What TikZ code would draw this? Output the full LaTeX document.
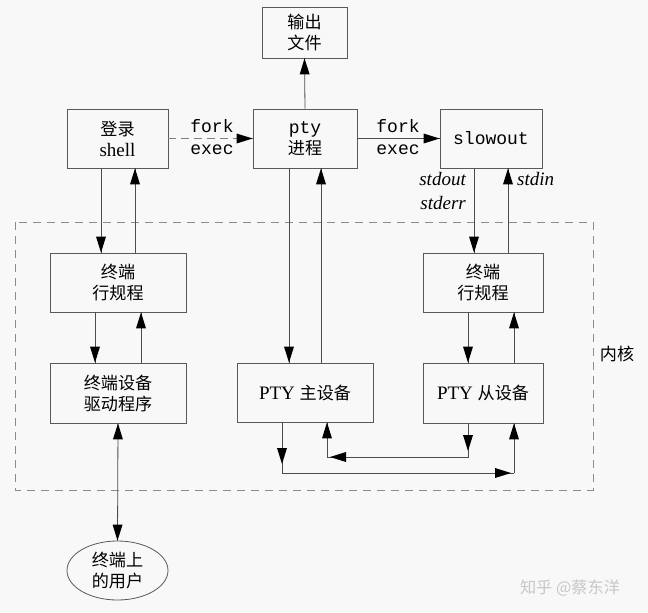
\documentclass[tikz,border=0pt]{standalone}
\usepackage{fontspec}
\setmainfont{Liberation Serif}
\setmonofont{Liberation Mono}
\newfontfamily\cjk[Scale=0.9]{Noto Sans CJK SC}
\usetikzlibrary{decorations.markings,shapes.geometric}
\definecolor{bg}{RGB}{248,248,248}
\begin{document}
\begin{tikzpicture}[x=1pt,y=-1pt,
  box/.style={draw=black!65, line width=0.8pt, fill=bg, inner sep=0pt, align=center,
              font=\fontsize{19}{21}\selectfont},
  cjbox/.style={box, font=\fontsize{19}{21}\selectfont\cjk},
  conn/.style={draw=black!70, line width=0.8pt},
  headend/.style={postaction={decorate, decoration={markings,
      mark=at position 1 with {\fill[black] (0pt,0pt) -- (-16pt,5pt) -- (-16pt,-5pt) -- cycle;}}}},
  headstart/.style={postaction={decorate, decoration={markings,
      mark=at position 0 with {\fill[black] (0pt,0pt) -- (16pt,5pt) -- (16pt,-5pt) -- cycle;}}}},
  arr/.style={conn, headend},
  darr/.style={conn, headend, headstart},
  ttlbl/.style={font=\fontsize{18}{21}\selectfont\ttfamily, inner sep=0pt},
  itlbl/.style={font=\fontsize{19}{21}\selectfont\itshape, inner sep=0pt},
  kernel/.style={draw=black!45, line width=1pt, dash pattern=on 8pt off 6pt}
]
\path[fill=bg] (0,0) rectangle (648,613);

% kernel region
\draw[kernel] (15,222) rectangle (593,490);
\node[font=\fontsize{19}{21}\selectfont\cjk, inner sep=0pt] (kern) at (617,354) {内核};

% processes
\node[cjbox, minimum width=85pt, minimum height=51pt] (out) at (304.5,32.5) {输出\\文件};
\node[box, minimum width=101pt, minimum height=59pt] (login) at (117.5,138.5) {{\cjk 登录}\\shell};
\node[box, minimum width=104pt, minimum height=59pt] (pty) at (305,138.5) {{\fontsize{18}{21}\selectfont\ttfamily pty}\\{\cjk 进程}};
\node[box, minimum width=102pt, minimum height=59pt, font=\fontsize{18}{21}\selectfont\ttfamily] (slow) at (491,138.5) {slowout};

% kernel modules
\node[cjbox, minimum width=136pt, minimum height=59pt] (ldL) at (118,282.5) {终端\\行规程};
\node[cjbox, minimum width=120pt, minimum height=59pt] (ldR) at (483,282.5) {终端\\行规程};
\node[cjbox, minimum width=136pt, minimum height=60pt] (drv) at (118,393) {终端设备\\驱动程序};
\node[box, minimum width=136pt, minimum height=59pt] (ptm) at (305,392.5) {PTY {\cjk 主设备}};
\node[box, minimum width=120pt, minimum height=60pt] (pts) at (483,393) {PTY {\cjk 从设备}};

% user
\node[ellipse, draw=black!65, line width=0.8pt, fill=bg, inner sep=0pt,
      minimum width=101pt, minimum height=59pt, align=center,
      font=\fontsize{19}{21}\selectfont\cjk] (user) at (117.5,570.5) {终端上\\的用户};

% column helpers
\coordinate (xa) at (101,0);  \coordinate (xb) at (135,0);
\coordinate (xc) at (95,0);   \coordinate (xd) at (141,0);
\coordinate (xe) at (289,0);  \coordinate (xf) at (321,0);
\coordinate (xg) at (474,0);  \coordinate (xh) at (508,0);
\coordinate (xi) at (468,0);  \coordinate (xj) at (514,0);

% fork / exec
\draw[arr, draw=black!50, dash pattern=on 8pt off 5pt] (login.east) -- (pty.west);
\node[ttlbl] (fk1) at (212,126) {fork};
\node[ttlbl] (ex1) at (212,150) {exec};
\draw[arr] (pty.east) -- (slow.west);
\node[ttlbl] (fk2) at (398,126) {fork};
\node[ttlbl] (ex2) at (398,150) {exec};

\draw[arr] (pty.north) -- (out.south);

% login shell <-> line discipline
\draw[arr] (login.south -| xa) -- (ldL.north -| xa);
\draw[arr] (ldL.north -| xb) -- (login.south -| xb);
\draw[arr] (ldL.south -| xc) -- (drv.north -| xc);
\draw[arr] (drv.north -| xd) -- (ldL.south -| xd);
\draw[darr] (drv.south) -- (user.north);

% pty process <-> master
\draw[arr] (pty.south -| xe) -- (ptm.north -| xe);
\draw[arr] (ptm.north -| xf) -- (pty.south -| xf);

% slowout <-> line discipline <-> slave
\draw[arr] (slow.south -| xg) -- (ldR.north -| xg);
\draw[arr] (ldR.north -| xh) -- (slow.south -| xh);
\node[itlbl, anchor=east] (sout) at (466,179) {stdout};
\node[itlbl, anchor=east] (serr) at (466,203) {stderr};
\node[itlbl, anchor=west] (sin) at (517,179) {stdin};
\draw[arr] (ldR.south -| xi) -- (pts.north -| xi);
\draw[arr] (pts.north -| xj) -- (ldR.south -| xj);

% master <-> slave loop
\coordinate (m1) at (282,473); \coordinate (s1) at (514,473);
\coordinate (s2) at (468,457); \coordinate (m2) at (327,457);
\draw[conn] (ptm.south -| m1) -- (m1) -- (s1);
\draw[arr] (ptm.south -| m1) -- ([yshift=9pt]m1);
\draw[arr] (m1) -- ([xshift=-3pt]s1);
\draw[arr] (s1) -- (pts.south -| s1);
\draw[conn] (pts.south -| s2) -- (s2) -- (m2);
\draw[arr] (pts.south -| s2) -- ([yshift=6pt]s2);
\draw[arr] (s2) -- ([xshift=3pt]m2);
\draw[arr] (m2) -- (ptm.south -| m2);

% signature
\node[font=\fontsize{18}{21}\selectfont\cjk, text=black!22, inner sep=0pt] (sig) at (570,588) {知乎 @蔡东洋};
\end{tikzpicture}
\end{document}
